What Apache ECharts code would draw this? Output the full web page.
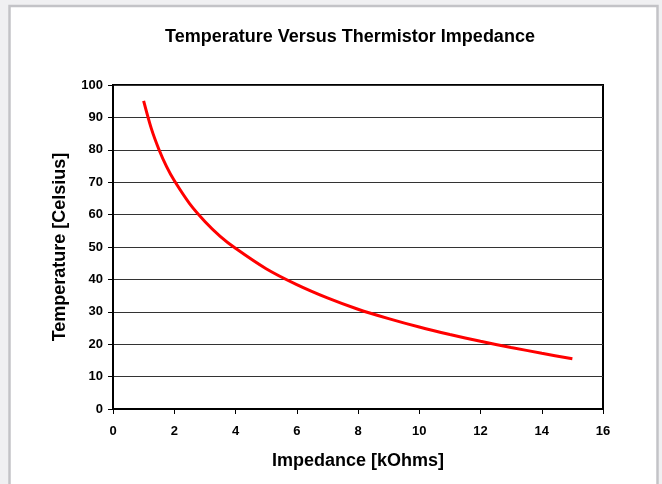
<!DOCTYPE html>
<html>
<head>
<meta charset="utf-8">
<script src="https://cdn.jsdelivr.net/npm/echarts@6/dist/echarts.min.js"></script>
<style>
html,body{margin:0;padding:0;background:#f0f0f2;}
#c{width:662px;height:484px;}
</style>
</head>
<body>
<div id="c"></div>
<script>
// Impedance in kOhms
var impedance = [1.0, 1.25, 1.5, 1.75, 2, 2.5, 3, 3.5, 4, 5, 6, 7, 8, 9, 10, 11, 12, 13, 14, 15];
// Temperature in Celsius
var temperature = [95.1, 86.6, 80.1, 74.8, 70.5, 63.4, 57.9, 53.3, 49.6, 43.3, 38.4, 34.3, 30.8, 27.9, 25.3, 23.0, 20.9, 19.0, 17.2, 15.5];

var titleText = 'Temperature Versus Thermistor Impedance';
var xTitle = 'Impedance [kOhms]';
var yTitle = 'Temperature [Celsius]';

var pts = impedance.map(function (x, i) { return [x, temperature[i]]; });
var FONT = 'Liberation Sans';

var chart = echarts.init(document.getElementById('c'), null, {renderer: 'canvas'});
chart.setOption({
  backgroundColor: '#f0f0f2',
  animation: false,
  graphic: [{
    type: 'rect', z: -10,
    shape: {x: 9.5, y: 6, width: 648, height: 500},
    style: {fill: '#ffffff', stroke: '#c3c3c7', lineWidth: 2.5}
  }],
  title: {
    text: titleText, left: 345, top: 23, textAlign: 'center',
    textStyle: {fontFamily: FONT, fontWeight: 'bold', fontSize: 18, color: '#000'}
  },
  grid: {
    left: 113, right: 59, top: 85, bottom: 75,
    show: true, borderColor: '#000', borderWidth: 2, backgroundColor: 'transparent'
  },
  xAxis: {
    type: 'value', min: 0, max: 16, interval: 2,
    name: xTitle, nameLocation: 'middle', nameGap: 43,
    nameTextStyle: {fontFamily: FONT, fontWeight: 'bold', fontSize: 18, color: '#000'},
    axisLine: {show: true, onZero: false, lineStyle: {color: '#000', width: 2}},
    axisTick: {show: true, length: 5, lineStyle: {color: '#000', width: 1}},
    axisLabel: {fontFamily: FONT, fontWeight: 'bold', fontSize: 13, color: '#000', margin: 16},
    splitLine: {show: false}
  },
  yAxis: {
    type: 'value', min: 0, max: 100, interval: 10,
    name: yTitle, nameLocation: 'middle', nameGap: 44, nameRotate: 90,
    nameTextStyle: {fontFamily: FONT, fontWeight: 'bold', fontSize: 18, color: '#000'},
    axisLine: {show: true, onZero: false, lineStyle: {color: '#000', width: 2}},
    axisTick: {show: true, length: 5, lineStyle: {color: '#000', width: 1}},
    axisLabel: {fontFamily: FONT, fontWeight: 'bold', fontSize: 13, color: '#000', margin: 10},
    splitLine: {show: true, lineStyle: {color: '#333333', width: 1}}
  },
  series: [{
    type: 'line', data: pts, smooth: 0.3, showSymbol: false,
    lineStyle: {color: '#ff0000', width: 3}, clip: true
  }]
});
</script>
</body>
</html>
